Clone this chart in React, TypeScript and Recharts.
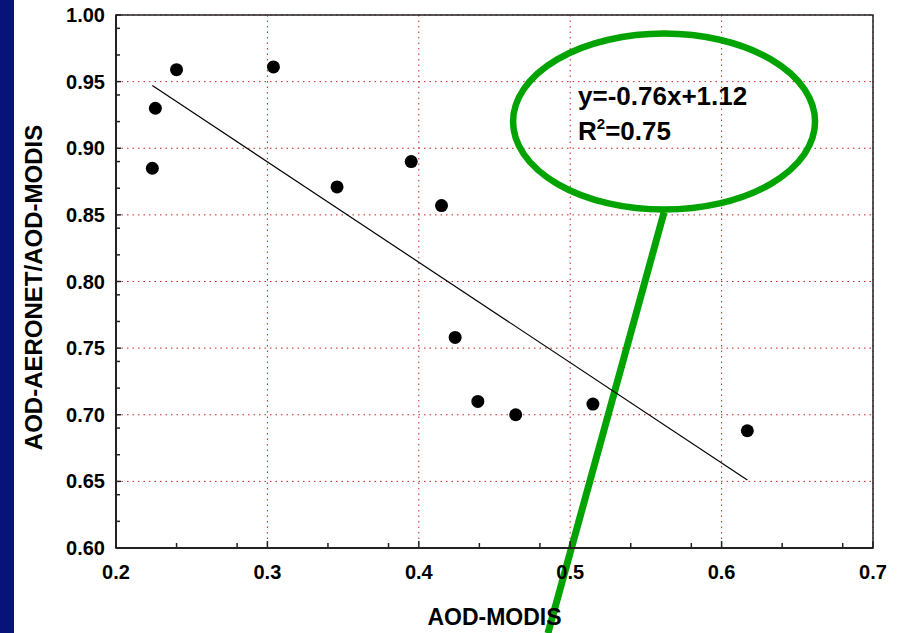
import React from "react";
import {
  ComposedChart,
  Scatter,
  XAxis,
  YAxis,
  CartesianGrid,
  ReferenceArea,
  ReferenceDot,
  ReferenceLine,
  Label,
} from "recharts";

const modisAod = [0.224, 0.226, 0.24, 0.304, 0.346, 0.395, 0.415, 0.424, 0.439, 0.464, 0.515, 0.617];
const aodRatio = [0.885, 0.93, 0.959, 0.961, 0.871, 0.89, 0.857, 0.758, 0.71, 0.7, 0.708, 0.688];

// end points of the fitted line y=-0.76x+1.12
const fitX = [0.224, 0.617];
const fitY = [0.947, 0.651];

const xTicks = [0.2, 0.3, 0.4, 0.5, 0.6, 0.7];
const yTicks = [0.6, 0.65, 0.7, 0.75, 0.8, 0.85, 0.9, 0.95, 1.0];
const xMinorTicks = [0.22, 0.24, 0.26, 0.28, 0.32, 0.34, 0.36, 0.38, 0.42, 0.44, 0.46, 0.48, 0.52, 0.54, 0.56, 0.58, 0.62, 0.64, 0.66, 0.68];
const yMinorTicks = [
  0.61, 0.62, 0.63, 0.64, 0.66, 0.67, 0.68, 0.69, 0.71, 0.72, 0.73, 0.74, 0.76, 0.77, 0.78, 0.79,
  0.81, 0.82, 0.83, 0.84, 0.86, 0.87, 0.88, 0.89, 0.91, 0.92, 0.93, 0.94, 0.96, 0.97, 0.98, 0.99,
];

// annotation callout: ellipse centre and the pointer segment, in data units
const calloutCenter = { x: 0.562, y: 0.92 };
const pointerFrom = { x: 0.562, y: 0.852 };
const pointerTo = { x: 0.4853, y: 0.536 };

const points = modisAod.map((x, i) => ({ x, y: aodRatio[i] }));
const fitLine = fitX.map((x, i) => ({ x, y: fitY[i] }));

const FONT = "Arial, 'Liberation Sans', sans-serif";
const GREEN = "#00a300";
const AXIS = "#222";

function Callout(props: { cx?: number; cy?: number }) {
  const cx = props.cx ?? 0;
  const cy = props.cy ?? 0;
  return (
    <g>
      <ellipse cx={cx} cy={cy} rx={151} ry={88} fill="none" stroke={GREEN} strokeWidth={6.5} />
      <text x={cx - 86} y={cy - 17} fontFamily={FONT} fontWeight="bold" fontSize={26} fill="#000">
        y=-0.76x+1.12
      </text>
      <text x={cx - 86} y={cy + 18} fontFamily={FONT} fontWeight="bold" fontSize={26} fill="#000">
        R<tspan fontSize={15} dy={-11}>2</tspan>
        <tspan dy={11}>=0.75</tspan>
      </text>
    </g>
  );
}

const Dot = (p: any) => <circle cx={p.cx} cy={p.cy} r={6.5} fill="#000" />;
const Empty = () => <g />;

export default function App() {
  return (
    <div style={{ position: "absolute", left: 0, top: 0, width: 900, height: 633, background: "#fff", overflow: "hidden" }}>
      <div style={{ position: "absolute", left: 0, top: 0, width: 14, height: 633, background: "#07137a" }} />
      <div style={{ position: "absolute", left: 0, top: 0 }}>
        <ComposedChart width={900} height={633} margin={{ top: 15, right: 27, left: 0, bottom: 0 }}>
          <CartesianGrid xAxisId="main" yAxisId="main" stroke="#c22" strokeDasharray="1.5 4" strokeWidth={1} />
          <XAxis
            xAxisId="main"
            type="number"
            dataKey="x"
            domain={[0.2, 0.7]}
            ticks={xTicks}
            height={85}
            axisLine={{ stroke: AXIS, strokeWidth: 2 }}
            tickLine={{ stroke: AXIS, strokeWidth: 1.5 }}
            tickSize={-7}
            tickMargin={24}
            tickFormatter={(v: number) => v.toFixed(1)}
            tick={{ fill: "#000", fontFamily: FONT, fontWeight: "bold", fontSize: 20 }}
            allowDataOverflow
          >
            <Label
              value="AOD-MODIS"
              position="insideBottom"
              offset={8}
              style={{ fill: "#000", fontFamily: FONT, fontWeight: "bold", fontSize: 23 }}
            />
          </XAxis>
          <XAxis
            xAxisId="minor"
            type="number"
            dataKey="x"
            domain={[0.2, 0.7]}
            ticks={xMinorTicks}
            mirror
            axisLine={false}
            tick={Empty}
            tickSize={5}
            tickLine={{ stroke: AXIS, strokeWidth: 1.5 }}
          />
          <YAxis
            yAxisId="main"
            type="number"
            dataKey="y"
            domain={[0.6, 1.0]}
            ticks={yTicks}
            width={116}
            axisLine={{ stroke: AXIS, strokeWidth: 2 }}
            tickLine={{ stroke: AXIS, strokeWidth: 1.5 }}
            tickSize={-5}
            tickMargin={16}
            tickFormatter={(v: number) => v.toFixed(2)}
            tick={{ fill: "#000", fontFamily: FONT, fontWeight: "bold", fontSize: 20 }}
            allowDataOverflow
          >
            <Label
              value="AOD-AERONET/AOD-MODIS"
              position="insideLeft"
              content={(p: any) => {
                const vb = p.viewBox || {};
                const cy = (vb.y ?? 0) + (vb.height ?? 0) / 2 + 6;
                return (
                  <text
                    x={33}
                    y={cy}
                    transform={`rotate(-90 33 ${cy})`}
                    textAnchor="middle"
                    dominantBaseline="central"
                    fontFamily={FONT}
                    fontWeight="bold"
                    fontSize={24}
                    fill="#000"
                  >
                    AOD-AERONET/AOD-MODIS
                  </text>
                );
              }}
            />
          </YAxis>
          <YAxis
            yAxisId="minor"
            type="number"
            dataKey="y"
            domain={[0.6, 1.0]}
            ticks={yMinorTicks}
            mirror
            axisLine={false}
            tick={Empty}
            tickSize={4}
            tickLine={{ stroke: AXIS, strokeWidth: 1.5 }}
          />
          <ReferenceArea xAxisId="main" yAxisId="main" x1={0.2} x2={0.7} y1={0.6} y2={1.0} fill="none" stroke={AXIS} strokeWidth={1.5} />
          {/* invisible series so the minor-tick axes get a scale */}
          <Scatter xAxisId="minor" yAxisId="minor" data={points} shape={Empty} isAnimationActive={false} />
          <Scatter
            xAxisId="main"
            yAxisId="main"
            data={fitLine}
            line={{ stroke: "#000", strokeWidth: 1.2 }}
            shape={Empty}
            isAnimationActive={false}
          />
          <Scatter xAxisId="main" yAxisId="main" data={points} shape={Dot} isAnimationActive={false} />
          <ReferenceLine
            xAxisId="main"
            yAxisId="main"
            segment={[pointerFrom, pointerTo]}
            stroke={GREEN}
            strokeWidth={7}
            ifOverflow="visible"
          />
          <ReferenceDot
            xAxisId="main"
            yAxisId="main"
            x={calloutCenter.x}
            y={calloutCenter.y}
            ifOverflow="visible"
            shape={(p: any) => <Callout cx={p.cx} cy={p.cy} />}
          />
        </ComposedChart>
      </div>
    </div>
  );
}
